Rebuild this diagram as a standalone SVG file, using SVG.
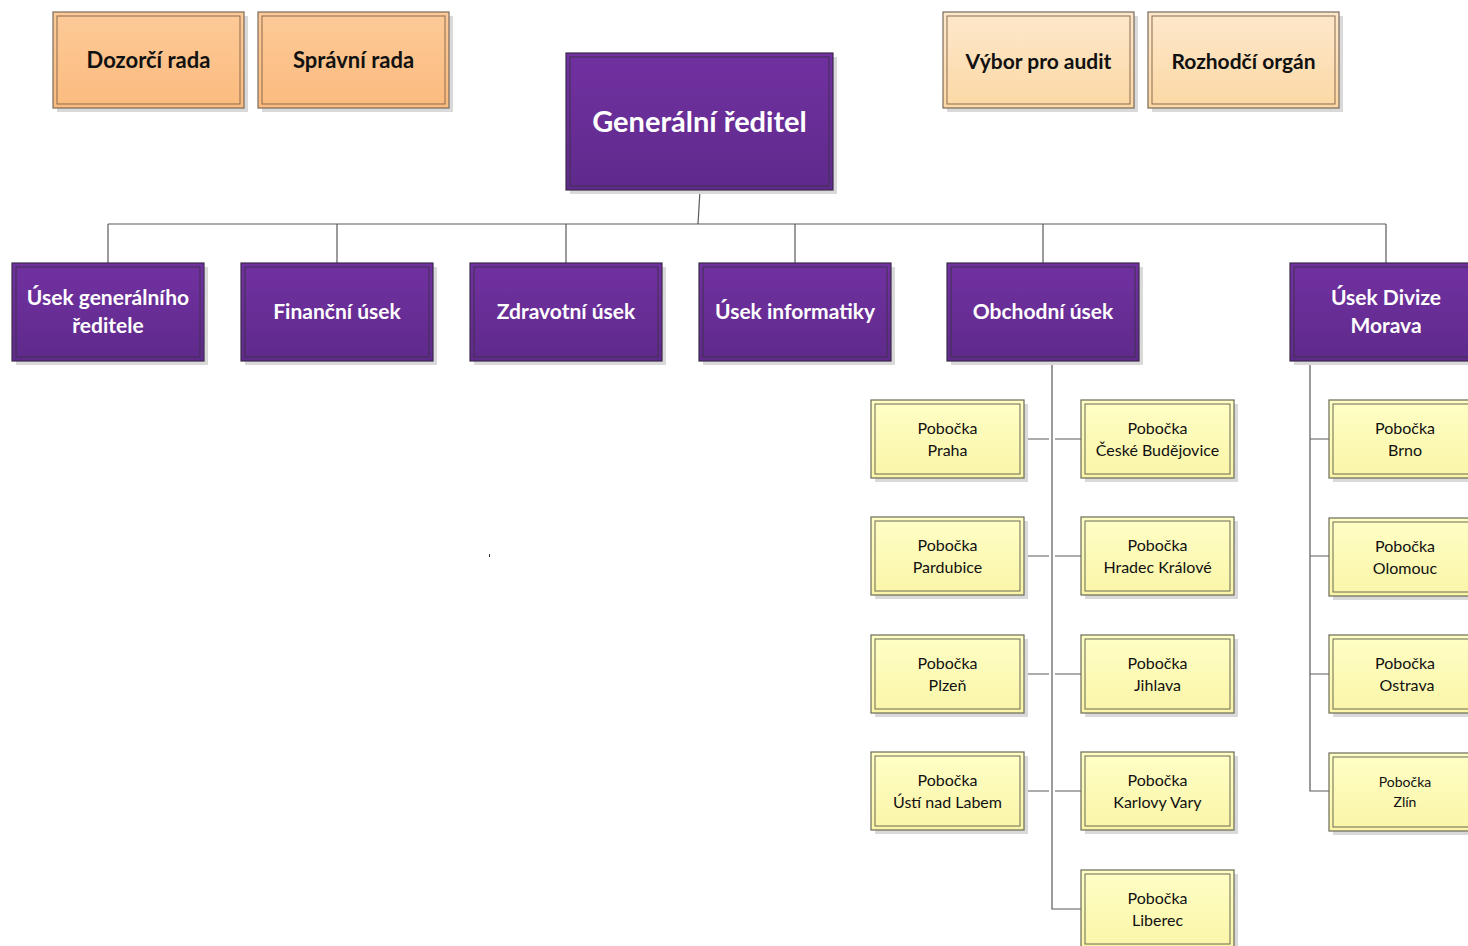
<svg xmlns="http://www.w3.org/2000/svg" width="1468" height="946" viewBox="0 0 1468 946">
<defs>
<linearGradient id="gOr" x1="0" y1="0" x2="0" y2="1"><stop offset="0" stop-color="#fdca98"/><stop offset="1" stop-color="#fbbb7e"/></linearGradient>
<linearGradient id="gLo" x1="0" y1="0" x2="0" y2="1"><stop offset="0" stop-color="#fde8cc"/><stop offset="1" stop-color="#fcd8a4"/></linearGradient>
<linearGradient id="gPu" x1="0" y1="0" x2="0" y2="1"><stop offset="0" stop-color="#7131a1"/><stop offset="1" stop-color="#5f2a8b"/></linearGradient>
<linearGradient id="gYe" x1="0" y1="0" x2="0" y2="1"><stop offset="0" stop-color="#ffffc6"/><stop offset="1" stop-color="#faf5a8"/></linearGradient>
</defs>
<style>
.sh{fill:#d9d9d9}
.or{fill:url(#gOr);stroke:#7a6a5a;stroke-width:1.2}
.lo{fill:url(#gLo);stroke:#7a6a5a;stroke-width:1.2}
.pu{fill:url(#gPu);stroke:#3b2b4a;stroke-width:1.2}
.ye{fill:url(#gYe);stroke:#6a6a55;stroke-width:1.2}
.in{fill:none;stroke-width:1}
.inO{stroke:#8a6a50}
.inP{stroke:#40304f}
.inY{stroke:#6a6a55}
.tb{font-family:Lato,"Open Sans",sans-serif;font-weight:bold;text-anchor:middle;dominant-baseline:central}
.tk{fill:#111}
.tw{fill:#fff}
.ty{font-family:Lato,"Open Sans",sans-serif;font-size:16px;fill:#111;text-anchor:middle;dominant-baseline:central}
.ts{font-size:14px}
.cn{fill:none;stroke:#5a5a5a;stroke-width:1.2}
</style>

<g id="connectors">
<path class="cn" d="M700 190 L698 224"/>
<path class="cn" d="M108 224 H1386"/>
<path class="cn" d="M108 224 V263 M337 224 V263 M566 224 V263 M795 224 V263 M1043 224 V263 M1386 224 V263"/>
<path class="cn" d="M1052 359 V909 H1081"/>
<path class="cn" d="M1024 439 H1049 M1055 439 H1081 M1024 556 H1049 M1055 556 H1081 M1024 674 H1049 M1055 674 H1081 M1024 791 H1049 M1055 791 H1081"/>
<path class="cn" d="M1310 361 V791 H1329 M1310 439 H1329 M1310 556 H1329 M1310 674 H1329"/>
</g>

<g id="dozorci">
<rect class="sh" x="57" y="16" width="191" height="96"/>
<rect class="or" x="53" y="12" width="191" height="96"/>
<rect class="in inO" x="57" y="16" width="183" height="88"/>
<text class="tb tk" x="148.5" y="59" font-size="22">Dozorčí rada</text>
</g>
<g id="spravni">
<rect class="sh" x="262" y="16" width="191" height="96"/>
<rect class="or" x="258" y="12" width="191" height="96"/>
<rect class="in inO" x="262" y="16" width="183" height="88"/>
<text class="tb tk" x="353.5" y="59" font-size="22">Správní rada</text>
</g>
<g id="vybor">
<rect class="sh" x="947" y="16" width="191" height="96"/>
<rect class="lo" x="943" y="12" width="191" height="96"/>
<rect class="in inO" x="947" y="16" width="183" height="88"/>
<text class="tb tk" x="1038.5" y="60" font-size="21">Výbor pro audit</text>
</g>
<g id="rozhodci">
<rect class="sh" x="1152" y="16" width="191" height="96"/>
<rect class="lo" x="1148" y="12" width="191" height="96"/>
<rect class="in inO" x="1152" y="16" width="183" height="88"/>
<text class="tb tk" x="1243.5" y="60" font-size="21">Rozhodčí orgán</text>
</g>

<g id="generalni">
<rect class="sh" x="570" y="57" width="267" height="137"/>
<rect class="pu" x="566" y="53" width="267" height="137"/>
<rect class="in inP" x="570" y="57" width="259" height="129"/>
<text class="tb tw" x="699.5" y="120" font-size="29">Generální ředitel</text>
</g>

<g id="usek-gen">
<rect class="sh" x="16" y="267" width="192" height="98"/>
<rect class="pu" x="12" y="263" width="192" height="98"/>
<rect class="in inP" x="16" y="267" width="184" height="90"/>
<text class="tb tw" x="108" y="296" font-size="21">Úsek generálního</text>
<text class="tb tw" x="108" y="324" font-size="21">ředitele</text>
</g>
<g id="financni">
<rect class="sh" x="245" y="267" width="192" height="98"/>
<rect class="pu" x="241" y="263" width="192" height="98"/>
<rect class="in inP" x="245" y="267" width="184" height="90"/>
<text class="tb tw" x="337" y="310" font-size="21">Finanční úsek</text>
</g>
<g id="zdravotni">
<rect class="sh" x="474" y="267" width="192" height="98"/>
<rect class="pu" x="470" y="263" width="192" height="98"/>
<rect class="in inP" x="474" y="267" width="184" height="90"/>
<text class="tb tw" x="566" y="310" font-size="21">Zdravotní úsek</text>
</g>
<g id="informatiky">
<rect class="sh" x="703" y="267" width="192" height="98"/>
<rect class="pu" x="699" y="263" width="192" height="98"/>
<rect class="in inP" x="703" y="267" width="184" height="90"/>
<text class="tb tw" x="795" y="310" font-size="21">Úsek informatiky</text>
</g>
<g id="obchodni">
<rect class="sh" x="951" y="267" width="192" height="98"/>
<rect class="pu" x="947" y="263" width="192" height="98"/>
<rect class="in inP" x="951" y="267" width="184" height="90"/>
<text class="tb tw" x="1043" y="310" font-size="21">Obchodní úsek</text>
</g>
<g id="morava">
<rect class="sh" x="1294" y="267" width="192" height="98"/>
<rect class="pu" x="1290" y="263" width="192" height="98"/>
<rect class="in inP" x="1294" y="267" width="184" height="90"/>
<text class="tb tw" x="1386" y="296" font-size="21">Úsek Divize</text>
<text class="tb tw" x="1386" y="324" font-size="21">Morava</text>
</g>

<g id="praha">
<rect class="sh" x="875" y="404" width="153" height="78"/>
<rect class="ye" x="871" y="400" width="153" height="78"/>
<rect class="in inY" x="875" y="404" width="145" height="70"/>
<text class="ty" x="947.5" y="427">Pobočka</text><text class="ty" x="947.5" y="449">Praha</text>
</g>
<g id="budejovice">
<rect class="sh" x="1085" y="404" width="153" height="78"/>
<rect class="ye" x="1081" y="400" width="153" height="78"/>
<rect class="in inY" x="1085" y="404" width="145" height="70"/>
<text class="ty" x="1157.5" y="427">Pobočka</text><text class="ty" x="1157.5" y="449">České Budějovice</text>
</g>
<g id="pardubice">
<rect class="sh" x="875" y="521" width="153" height="78"/>
<rect class="ye" x="871" y="517" width="153" height="78"/>
<rect class="in inY" x="875" y="521" width="145" height="70"/>
<text class="ty" x="947.5" y="544">Pobočka</text><text class="ty" x="947.5" y="566">Pardubice</text>
</g>
<g id="hradec">
<rect class="sh" x="1085" y="521" width="153" height="78"/>
<rect class="ye" x="1081" y="517" width="153" height="78"/>
<rect class="in inY" x="1085" y="521" width="145" height="70"/>
<text class="ty" x="1157.5" y="544">Pobočka</text><text class="ty" x="1157.5" y="566">Hradec Králové</text>
</g>
<g id="plzen">
<rect class="sh" x="875" y="639" width="153" height="78"/>
<rect class="ye" x="871" y="635" width="153" height="78"/>
<rect class="in inY" x="875" y="639" width="145" height="70"/>
<text class="ty" x="947.5" y="662">Pobočka</text><text class="ty" x="947.5" y="684">Plzeň</text>
</g>
<g id="jihlava">
<rect class="sh" x="1085" y="639" width="153" height="78"/>
<rect class="ye" x="1081" y="635" width="153" height="78"/>
<rect class="in inY" x="1085" y="639" width="145" height="70"/>
<text class="ty" x="1157.5" y="662">Pobočka</text><text class="ty" x="1157.5" y="684">Jihlava</text>
</g>
<g id="usti">
<rect class="sh" x="875" y="756" width="153" height="78"/>
<rect class="ye" x="871" y="752" width="153" height="78"/>
<rect class="in inY" x="875" y="756" width="145" height="70"/>
<text class="ty" x="947.5" y="779">Pobočka</text><text class="ty" x="947.5" y="801">Ústí nad Labem</text>
</g>
<g id="karlovy">
<rect class="sh" x="1085" y="756" width="153" height="78"/>
<rect class="ye" x="1081" y="752" width="153" height="78"/>
<rect class="in inY" x="1085" y="756" width="145" height="70"/>
<text class="ty" x="1157.5" y="779">Pobočka</text><text class="ty" x="1157.5" y="801">Karlovy Vary</text>
</g>
<g id="liberec">
<rect class="sh" x="1085" y="874" width="153" height="78"/>
<rect class="ye" x="1081" y="870" width="153" height="78"/>
<rect class="in inY" x="1085" y="874" width="145" height="70"/>
<text class="ty" x="1157.5" y="897">Pobočka</text><text class="ty" x="1157.5" y="919">Liberec</text>
</g>

<g id="brno">
<rect class="sh" x="1333" y="404" width="153" height="78"/>
<rect class="ye" x="1329" y="400" width="153" height="78"/>
<rect class="in inY" x="1333" y="404" width="145" height="70"/>
<text class="ty" x="1405" y="427">Pobočka</text><text class="ty" x="1405" y="449">Brno</text>
</g>
<g id="olomouc">
<rect class="sh" x="1333" y="522" width="153" height="78"/>
<rect class="ye" x="1329" y="518" width="153" height="78"/>
<rect class="in inY" x="1333" y="522" width="145" height="70"/>
<text class="ty" x="1405" y="545">Pobočka</text><text class="ty" x="1405" y="567">Olomouc</text>
</g>
<g id="ostrava">
<rect class="sh" x="1333" y="639" width="153" height="78"/>
<rect class="ye" x="1329" y="635" width="153" height="78"/>
<rect class="in inY" x="1333" y="639" width="145" height="70"/>
<text class="ty" x="1405" y="662">Pobočka</text><text class="ty" x="1407" y="684">Ostrava</text>
</g>
<g id="zlin">
<rect class="sh" x="1333" y="757" width="153" height="78"/>
<rect class="ye" x="1329" y="753" width="153" height="78"/>
<rect class="in inY" x="1333" y="757" width="145" height="70"/>
<text class="ty ts" x="1405" y="781">Pobočka</text><text class="ty ts" x="1405" y="801">Zlín</text>
</g>

<rect x="489" y="554" width="1" height="3" fill="#333"/>
</svg>
